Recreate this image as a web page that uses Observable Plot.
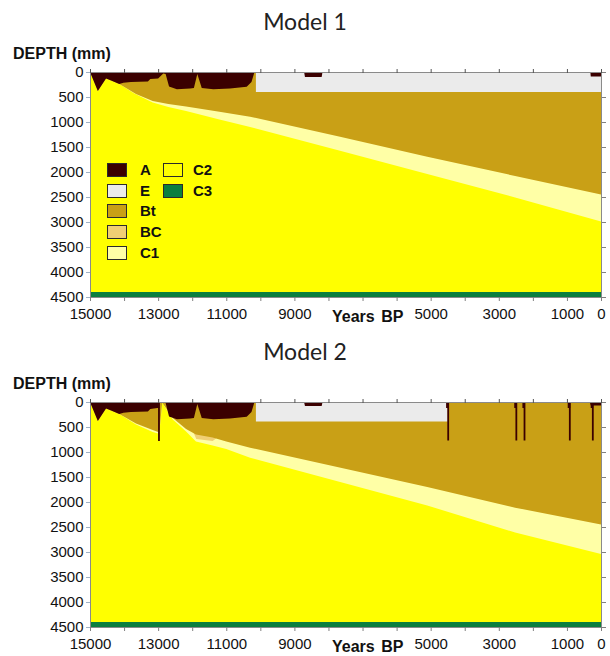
<!DOCTYPE html>
<html>
<head>
<meta charset="utf-8">
<script src="https://cdn.jsdelivr.net/npm/d3@7"></script>
<script src="https://cdn.jsdelivr.net/npm/@observablehq/plot@0.6"></script>
<style>
  body { margin: 0; background: #fff; }
  #page { position: relative; width: 610px; height: 656px; overflow: hidden; font-family: "Liberation Sans", Arial, sans-serif; color: #111; }
  .title { position: absolute; left: 0; width: 610px; text-align: center; font-family: Lato, "Open Sans", sans-serif; font-size: 23px; line-height: 26px; color: #222; }
  .panel { position: absolute; left: 0; }
  .ylab { position: absolute; left: 13px; font-weight: bold; font-size: 16px; line-height: 16px; }
  .xlab { position: absolute; left: 332px; font-weight: bold; font-size: 16px; line-height: 16px; word-spacing: 2px; }
  .legend { position: absolute; font-weight: bold; font-size: 15px; }
  .item { position: absolute; height: 14px; }
  .sw { position: absolute; left: 0; top: 0; width: 18px; height: 12px; border: 1px solid #2b2b2b; }
  .lb { position: absolute; top: -1px; line-height: 16px; white-space: nowrap; }
</style>
</head>
<body>
<div id="page"></div>
<script>
// Horizon names and fill colours
const horizons = ["A", "E", "Bt", "BC", "C1", "C2", "C3"];
const horizonColors = ["#3b0000", "#ebebeb", "#c9a016", "#f0cf74", "#ffffa6", "#ffff00", "#0b7f3f"];

// Axis ticks
const depthTicks = [0, 500, 1000, 1500, 2000, 2500, 3000, 3500, 4000, 4500];
const yearTicks = [15000, 14000, 13000, 12000, 11000, 10000, 9000, 8000, 7000, 6000, 5000, 4000, 3000, 2000, 1000, 0];
const yearLabels = [15000, 13000, 11000, 9000, 5000, 3000, 1000, 0];

// Time span and fixed parent-material boundaries (mm)
const timeSpan = [15000, 0];
const c2Bottom = 4400;
const maxDepth = 4500;

// ---- Model 1: lower boundary of each horizon, [years BP, depth mm] ----
const m1A = [[15000, 0], [14770, 380], [14530, 130], [14380, 170], [14140, 240], [14020, 213], [13800, 200],
  [13300, 190], [13230, 140], [13000, 130], [12850, 30], [12780, 40], [12680, 290], [12450, 345], [12060, 330],
  [11950, 320], [11850, 40], [11720, 320], [11380, 345], [10890, 330], [10400, 295], [10260, 200], [10180, 20],
  [8710, 20], [8690, 100], [8200, 100], [8180, 20], [310, 20], [300, 90], [0, 90]];
const m1E = [[10130, 400], [0, 400]];
const m1Bt = [[15000, 0], [14770, 380], [14530, 130], [14140, 240], [13650, 440], [13160, 580], [12700, 640],
  [12180, 690], [11200, 795], [10300, 893], [7660, 1295], [5100, 1695], [2520, 2080], [0, 2450]];
const m1BC = [];
const m1C1 = [[15000, 0], [14770, 380], [14530, 130], [14140, 240], [13700, 430], [13160, 610], [12700, 700],
  [12180, 780], [11200, 950], [10300, 1100], [7660, 1575], [5100, 2040], [2520, 2510], [0, 2990]];
const m1Tongues = [];

// ---- Model 2 ----
const m2A = [[15000, 0], [14770, 380], [14530, 130], [14380, 170], [14140, 240], [14020, 213], [13800, 200],
  [13300, 190], [13230, 140], [13020, 120], [12990, 20], [12780, 20], [12680, 290], [12450, 345], [12060, 330],
  [11950, 320], [11850, 40], [11720, 320], [11380, 345], [10890, 330], [10400, 295], [10260, 200], [10180, 20],
  [8710, 20], [8690, 80], [8200, 80], [8180, 20], [320, 20], [300, 70], [0, 70]];
const m2E = [[10130, 390], [4500, 390]];
const m2Bt = [[15000, 0], [14770, 380], [14530, 130], [14140, 240], [13650, 430], [13160, 560], [13000, 600],
  [12960, 560], [12880, 15], [12570, 320], [12180, 540], [11890, 650], [11400, 710], [11000, 790], [10300, 913],
  [5100, 1700], [2520, 2113], [0, 2450]];
const m2BC = [[11950, 630], [11880, 740], [11400, 780], [11300, 730]];
const m2C1 = [[15000, 0], [14770, 380], [14530, 130], [14140, 240], [13650, 450], [13160, 600], [13000, 630],
  [12960, 580], [12880, 15], [12570, 350], [12180, 590], [11890, 790], [11400, 870], [11000, 940], [10300, 1113],
  [5100, 2070], [2520, 2610], [0, 3040]];
// Narrow A-horizon tongues reaching down into the profile: [years BP, depth mm]
const m2Tongues = [[12990, 780], [4500, 770], [2500, 770], [2260, 770], [930, 770], [255, 770]];

const models = [
  {title: "Model 1", A: m1A, E: m1E, Bt: m1Bt, BC: m1BC, C1: m1C1, tongues: m1Tongues, legend: true},
  {title: "Model 2", A: m2A, E: m2E, Bt: m2Bt, BC: m2BC, C1: m2C1, tongues: m2Tongues, legend: false}
];

const color = Object.fromEntries(horizons.map((h, i) => [h, horizonColors[i]]));

// Fill from the surface down to a horizon's lower boundary; shallower horizons are drawn over deeper ones.
function layer(points, fill) {
  return Plot.areaY(points, {x: d => d[0], y1: 0, y2: d => d[1], fill, curve: "linear"});
}

function profile(m) {
  return Plot.plot({
    width: 610,
    height: 286,
    marginLeft: 90,
    marginRight: 9,
    marginTop: 32,
    marginBottom: 29,
    style: {fontFamily: "'Liberation Sans', Arial, sans-serif", fontSize: "15px", color: "#111", background: "transparent", overflow: "visible"},
    x: {domain: timeSpan},
    y: {domain: [0, maxDepth], reverse: true},
    marks: [
      Plot.areaY(timeSpan, {x: d => d, y1: 0, y2: c2Bottom, fill: color.C2}),
      Plot.areaY(timeSpan, {x: d => d, y1: c2Bottom, y2: maxDepth, fill: color.C3}),
      layer(m.C1, color.C1),
      layer(m.BC, color.BC),
      layer(m.Bt, color.Bt),
      layer(m.E, color.E),
      layer(m.A, color.A),
      Plot.ruleX(m.tongues, {x: d => d[0], y1: 0, y2: d => d[1], stroke: color.A, strokeWidth: 1.8}),
      Plot.ruleX(m.tongues, {x: d => d[0] + 25, y1: 0, y2: d => Math.min(d[1], 120), stroke: color.A, strokeWidth: 2.5}),
      Plot.frame({stroke: "#8a8a8a"}),
      Plot.axisY({anchor: "left", ticks: depthTicks, tickSize: 4, tickFormat: () => "", stroke: "#9fb2c6", label: null}),
      Plot.axisY({anchor: "left", ticks: depthTicks, tickSize: 0, tickPadding: 7, tickFormat: d => String(d), fill: "#111", fontSize: 15, label: null}),
      Plot.axisY({anchor: "right", ticks: depthTicks, tickSize: 4, tickFormat: () => "", stroke: "#808080", label: null}),
      Plot.axisX({anchor: "top", ticks: yearTicks, tickSize: 4, tickFormat: () => "", stroke: "#555", label: null}),
      Plot.axisX({anchor: "bottom", ticks: yearTicks, tickSize: 4, tickFormat: () => "", stroke: "#808080", label: null}),
      Plot.axisX({anchor: "bottom", ticks: yearLabels, tickSize: 0, tickPadding: 11, tickFormat: d => String(d), fill: "#111", fontSize: 15, label: null})
    ]
  });
}

const page = document.getElementById("page");
models.forEach((m, i) => {
  const top = i * 330;
  const t = document.createElement("div");
  t.className = "title";
  t.style.top = (top + 8) + "px";
  t.textContent = m.title;
  page.appendChild(t);

  const p = document.createElement("div");
  p.className = "panel";
  p.style.top = (top + 40) + "px";
  p.appendChild(profile(m));
  page.appendChild(p);

  const yl = document.createElement("div");
  yl.className = "ylab";
  yl.style.top = (top + 46) + "px";
  yl.textContent = "DEPTH (mm)";
  page.appendChild(yl);

  const xl = document.createElement("div");
  xl.className = "xlab";
  xl.style.top = (top + 309) + "px";
  xl.textContent = "Years BP";
  page.appendChild(xl);

  if (m.legend) {
    const lg = document.createElement("div");
    lg.className = "legend";
    lg.style.left = "107px";
    lg.style.top = "163px";
    const cols = [["A", "E", "Bt", "BC", "C1"], ["C2", "C3"]];
    cols.forEach((col, c) => {
      col.forEach((h, r) => {
        const it = document.createElement("div");
        it.className = "item";
        it.style.left = (c * 56) + "px";
        it.style.top = (r * 20.7) + "px";
        const sw = document.createElement("div");
        sw.className = "sw";
        sw.style.background = color[h];
        const lb = document.createElement("div");
        lb.className = "lb";
        lb.style.left = (c === 0 ? 33 : 30) + "px";
        lb.textContent = h;
        it.appendChild(sw);
        it.appendChild(lb);
        lg.appendChild(it);
      });
    });
    page.appendChild(lg);
  }
});
</script>
</body>
</html>
